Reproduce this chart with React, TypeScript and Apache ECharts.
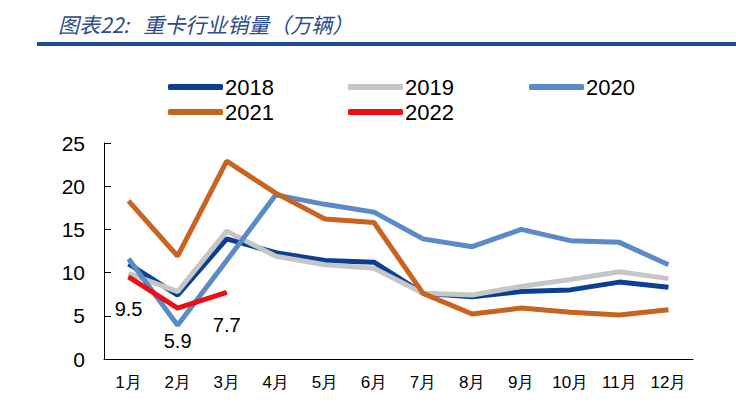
import React, { useEffect, useRef } from "react";
import * as echarts from "echarts";

const months = ["1月", "2月", "3月", "4月", "5月", "6月", "7月", "8月", "9月", "10月", "11月", "12月"];
const s2018 = [11.0, 7.4, 13.9, 12.3, 11.4, 11.2, 7.6, 7.2, 7.8, 8.0, 8.9, 8.3];
const s2019 = [9.9, 7.8, 14.8, 11.9, 10.9, 10.5, 7.6, 7.4, 8.4, 9.2, 10.1, 9.3];
const s2020 = [11.6, 3.9, 11.4, 19.0, 17.9, 17.0, 13.9, 13.0, 15.0, 13.7, 13.5, 10.9];
const s2021 = [18.3, 11.9, 22.9, 19.2, 16.2, 15.8, 7.6, 5.2, 5.9, 5.4, 5.1, 5.7];
const s2022 = [9.5, 5.9, 7.7];
const yearNames = ["2018", "2019", "2020", "2021", "2022"];
const colors = ["#0a3f94", "#c6c6c6", "#5a8ac8", "#c8641f", "#ee0f14"];

const FONT = '"Liberation Sans", Arial, sans-serif';

export default function App() {
  const ref = useRef<HTMLDivElement>(null);
  useEffect(() => {
    const chart = echarts.init(ref.current!, null, { renderer: "svg" });
    const data = [s2018, s2019, s2020, s2021, s2022];
    const legendPos = [
      { left: 163, top: 71 },
      { left: 343, top: 71 },
      { left: 524, top: 71 },
      { left: 163, top: 96 },
      { left: 343, top: 96 },
    ];
    chart.setOption({
      animation: false,
      textStyle: { fontFamily: FONT },
      title: {
        text: "图表22:   重卡行业销量（万辆）",
        left: 53,
        top: 8,
        textStyle: {
          fontFamily: '"Noto Sans CJK SC", sans-serif',
          fontStyle: "italic",
          fontWeight: "normal",
          fontSize: 21,
          color: "#2c4a8c",
        },
      },
      graphic: [
        {
          type: "rect",
          shape: { x: 37, y: 42, width: 699, height: 4 },
          style: { fill: "#1f4e96" },
        },
      ],
      legend: yearNames.map((n, i) => ({
        data: [n],
        left: legendPos[i].left,
        top: legendPos[i].top,
        icon: "roundRect",
        itemWidth: 55,
        itemHeight: 6,
        itemGap: 4,
        textStyle: { fontSize: 22, color: "#000", fontFamily: FONT, padding: [0, 0, 0, -3] },
      })),
      grid: { left: 104, right: 43, top: 143, bottom: 61 },
      xAxis: {
        type: "category",
        data: months,
        boundaryGap: true,
        axisLine: { lineStyle: { color: "#000", width: 1 } },
        axisTick: { inside: true, length: 6, lineStyle: { color: "#000" } },
        axisLabel: { color: "#000", fontSize: 17, margin: 15, interval: 0, fontFamily: FONT },
      },
      yAxis: {
        type: "value",
        min: 0,
        max: 25,
        interval: 5,
        splitLine: { show: false },
        axisLine: { show: true, lineStyle: { color: "#000", width: 1 } },
        axisTick: { show: true, inside: true, length: 7, lineStyle: { color: "#000" } },
        axisLabel: { color: "#000", fontSize: 21, margin: 19, fontFamily: FONT },
      },
      series: data.map((d, i) => ({
        name: yearNames[i],
        type: "line",
        data: d,
        symbol: i === 4 ? "circle" : "none",
        symbolSize: 1,
        showSymbol: i === 4,
        color: colors[i],
        itemStyle: { color: colors[i] },
        lineStyle: { width: 5, color: colors[i] },
        z: 2 + i,
        label:
          i === 4
            ? {
                show: true,
                position: "bottom",
                distance: 22,
                fontSize: 20,
                color: "#000",
                fontFamily: FONT,
              }
            : { show: false },
      })),
    });
    return () => chart.dispose();
  }, []);
  return <div ref={ref} style={{ width: 736, height: 420, position: "absolute", left: 0, top: 0, background: "#fff" }} />;
}
